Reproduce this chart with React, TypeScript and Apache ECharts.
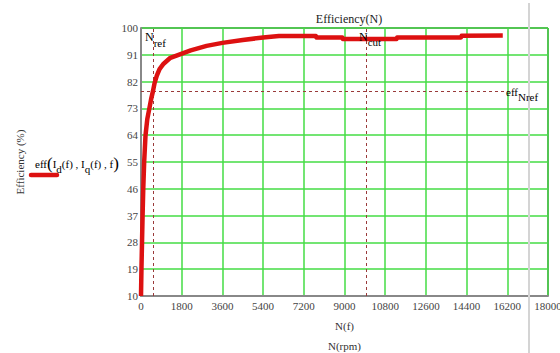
import React, { useEffect, useRef } from "react";
import * as echarts from "echarts";

const rpm = [0, 20, 45, 70, 100, 140, 200, 280, 370, 450, 530, 600, 700, 820, 1000, 1300, 1660, 2200, 2900, 3600, 4500, 5400, 6100, 7730, 7760, 8900, 8930, 11300, 11330, 14150, 14180, 16000];
const eff = [10, 19, 28, 37, 46, 55, 64, 69.5, 73, 76.2, 78.8, 81.5, 84, 86.2, 88, 90, 91, 92.5, 94, 95, 96, 96.8, 97.3, 97.3, 96.8, 96.8, 96.3, 96.3, 96.8, 96.8, 97.4, 97.5];

const xTicks = { min: 0, max: 18000, interval: 1800 };
const yTicks = { min: 10, max: 100, interval: 9 };

const nRef = 530;
const nCut = 9960;
const effNref = 78.8;
const effLineEnd = 16300;

const FONT = "'Liberation Serif', 'Times New Roman', serif";

export default function App() {
  const ref = useRef<HTMLDivElement>(null);
  useEffect(() => {
    const chart = echarts.init(ref.current!, null, { renderer: "svg" });
    const data = rpm.map((x, i) => [x, eff[i]]);
    const dashStyle = { color: "#9a3a3a", width: 1, type: [3, 3] as any };
    chart.setOption({
      animation: false,
      backgroundColor: "#ffffff",
      textStyle: { fontFamily: FONT },
      title: {
        text: "Efficiency(N)",
        left: 344,
        textAlign: "center",
        top: 8,
        textStyle: { fontFamily: FONT, fontSize: 12, fontWeight: "normal", color: "#222" },
      },
      grid: {
        left: 141,
        right: 12,
        top: 28,
        bottom: 57,
        outerBoundsMode: "none",
        containLabel: false,
        show: true,
        borderColor: "#000",
        borderWidth: 1,
        backgroundColor: "transparent",
      },
      xAxis: {
        type: "value",
        min: xTicks.min,
        max: xTicks.max,
        interval: xTicks.interval,
        name: "N(f)\nN(rpm)",
        nameLocation: "middle",
        nameGap: 18,
        nameTextStyle: { fontFamily: FONT, fontSize: 11, color: "#333", lineHeight: 20 },
        axisLine: { show: true, onZero: false, lineStyle: { color: "#888", width: 2 } },
        axisTick: { show: false },
        axisLabel: {
          fontFamily: FONT,
          fontSize: 11,
          color: "#444",
          margin: 4,
          showMaxLabel: true,
          hideOverlap: false,
          formatter: (v: number) => String(v),
        },
        splitLine: { show: true, lineStyle: { color: "#44dd44", width: 1.5 } },
      },
      yAxis: {
        type: "value",
        min: yTicks.min,
        max: yTicks.max,
        interval: yTicks.interval,
        name: "Efficiency (%)",
        nameLocation: "middle",
        nameGap: 116,
        nameRotate: 90,
        nameTextStyle: { fontFamily: FONT, fontSize: 11, color: "#333" },
        axisLine: { show: true, onZero: false, lineStyle: { color: "#888", width: 2 } },
        axisTick: { show: false },
        axisLabel: { fontFamily: FONT, fontSize: 11, color: "#444", margin: 3, formatter: (v: number) => String(v) },
        splitLine: { show: true, lineStyle: { color: "#44dd44", width: 1.5 } },
      },
      series: [
        {
          type: "line",
          data,
          showSymbol: false,
          symbol: "none",
          lineStyle: { color: "#dd1111", width: 4.5, join: "round" },
          z: 5,
          markLine: {
            silent: true,
            symbol: ["none", "none"],
            label: { show: false },
            lineStyle: dashStyle,
            data: [
              { xAxis: nRef },
              { xAxis: nCut },
              [{ coord: [0, effNref] }, { coord: [effLineEnd, effNref] }],
            ],
          },
        },
      ],
      graphic: [
        {
          type: "line",
          shape: { x1: 529, y1: 3, x2: 529, y2: 353 },
          style: { stroke: "#d4d4d4", lineWidth: 2 },
          z: 1,
        },
        {
          type: "line",
          shape: { x1: 31, y1: 175, x2: 57, y2: 175 },
          style: { stroke: "#dd1111", lineWidth: 4.5, lineCap: "round" },
        },
        {
          type: "text",
          x: 35,
          y: 155,
          style: {
            text: "{m|eff}{p|(}{m|I}{s|d}{m|(f) , I}{s|q}{m|(f) , f}{p|)}",
            rich: {
              m: { fontFamily: FONT, fontSize: 11, color: "#222", verticalAlign: "top", padding: [3, 0, 0, 0] },
              p: { fontFamily: FONT, fontSize: 17, color: "#222", verticalAlign: "top" },
              s: { fontFamily: FONT, fontSize: 11, color: "#222", verticalAlign: "top", padding: [8, 0, 0, 0] },
            },
          },
        },
        {
          type: "text",
          x: 145,
          y: 31,
          style: {
            text: "{m|N}{s|ref}",
            rich: {
              m: { fontFamily: FONT, fontSize: 12, color: "#222", verticalAlign: "top" },
              s: { fontFamily: FONT, fontSize: 11, color: "#222", verticalAlign: "top", padding: [6, 0, 0, 0] },
            },
          },
          z: 10,
        },
        {
          type: "text",
          x: 359,
          y: 31,
          style: {
            text: "{m|N}{s|cut}",
            rich: {
              m: { fontFamily: FONT, fontSize: 12, color: "#222", verticalAlign: "top" },
              s: { fontFamily: FONT, fontSize: 11, color: "#222", verticalAlign: "top", padding: [5, 0, 0, 0] },
            },
          },
          z: 10,
        },
        {
          type: "text",
          x: 506,
          y: 86,
          style: {
            text: "{m|eff}{s|Nref}",
            rich: {
              m: { fontFamily: FONT, fontSize: 11, color: "#222", verticalAlign: "top" },
              s: { fontFamily: FONT, fontSize: 11, color: "#222", verticalAlign: "top", padding: [5, 0, 0, 0] },
            },
          },
          z: 10,
        },
      ],
    });
    return () => chart.dispose();
  }, []);
  return (
    <div
      ref={ref}
      style={{ position: "absolute", left: 0, top: 0, width: 560, height: 353, background: "#fff" }}
    />
  );
}
